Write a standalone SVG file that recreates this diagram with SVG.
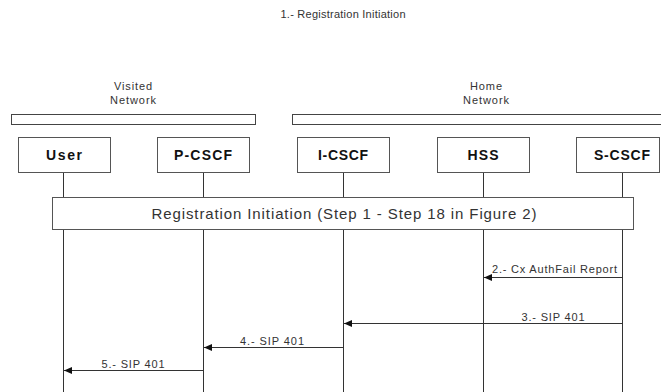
<svg xmlns="http://www.w3.org/2000/svg" width="661" height="392" viewBox="0 0 661 392">
<style>
  text { font-family: "Liberation Sans", Arial, sans-serif; fill: #333; }
  .small { font-size: 11px; }
  .node rect { fill: #fff; stroke: #555; stroke-width: 1; }
  .node text { font-size: 14px; font-weight: bold; fill: #111; text-anchor: middle; }
  .life { stroke: #333; stroke-width: 1; }
  .msg { stroke: #333; stroke-width: 1; marker-end: url(#ah); }
  .bar { fill: #fff; stroke: #444; stroke-width: 1; }
</style>
<defs>
  <marker id="ah" viewBox="0 0 8 8" refX="8" refY="4" markerWidth="8" markerHeight="8" markerUnits="userSpaceOnUse" orient="auto">
    <path d="M0,0.5 L8,4 L0,7.5 Z" fill="#111"/>
  </marker>
</defs>
<rect x="0" y="0" width="661" height="392" fill="#fff"/>
<text class="small" x="343" y="18" text-anchor="middle" textLength="125">1.- Registration Initiation</text>

<g id="visited-network">
  <text class="small" x="133" y="90" text-anchor="middle" textLength="38">Visited</text>
  <text class="small" x="133" y="104" text-anchor="middle" textLength="46">Network</text>
  <rect class="bar" x="11.5" y="114.5" width="244" height="10"/>
</g>
<g id="home-network">
  <text class="small" x="486" y="90" text-anchor="middle" textLength="32">Home</text>
  <text class="small" x="486" y="104" text-anchor="middle" textLength="46">Network</text>
  <rect class="bar" x="292.5" y="114.5" width="380" height="10"/>
</g>

<g id="lifelines">
  <line class="life" x1="63.5" y1="172" x2="63.5" y2="392"/>
  <line class="life" x1="203.5" y1="172" x2="203.5" y2="392"/>
  <line class="life" x1="343.5" y1="172" x2="343.5" y2="392"/>
  <line class="life" x1="483.5" y1="172" x2="483.5" y2="392" stroke="#777"/>
  <line class="life" x1="622.5" y1="172" x2="622.5" y2="392"/>
</g>

<g id="user" class="node"><rect x="18.5" y="137.5" width="92" height="35"/><text x="64" y="160" textLength="36">User</text></g>
<g id="pcscf" class="node"><rect x="157.5" y="137.5" width="92" height="35"/><text x="203" y="160" textLength="58">P-CSCF</text></g>
<g id="icscf" class="node"><rect x="297.5" y="137.5" width="92" height="35"/><text x="343" y="160" textLength="50">I-CSCF</text></g>
<g id="hss" class="node"><rect x="437.5" y="137.5" width="92" height="35"/><text x="483" y="160" textLength="31">HSS</text></g>
<g id="scscf" class="node"><rect x="576.5" y="137.5" width="83" height="35"/><text x="622" y="160" textLength="56">S-CSCF</text></g>

<g id="registration-box">
  <rect x="52.5" y="197.5" width="581" height="32" fill="#fff" stroke="#555"/>
  <text x="344" y="219" text-anchor="middle" font-size="15" fill="#111" textLength="385">Registration Initiation (Step 1 - Step 18 in Figure 2)</text>
</g>

<g id="connectors">
  <line class="msg" x1="622.5" y1="277.5" x2="484" y2="277.5"/>
  <text class="small" x="617" y="273" text-anchor="end" textLength="125">2.- Cx AuthFail Report</text>
  <line class="msg" x1="622.5" y1="323.5" x2="344" y2="323.5"/>
  <text class="small" x="553" y="321" text-anchor="middle" textLength="63">3.- SIP 401</text>
  <line class="msg" x1="343.5" y1="347.5" x2="204" y2="347.5"/>
  <text class="small" x="272" y="345" text-anchor="middle" textLength="64">4.- SIP 401</text>
  <line class="msg" x1="203.5" y1="370.5" x2="64" y2="370.5"/>
  <text class="small" x="133" y="368" text-anchor="middle" textLength="63">5.- SIP 401</text>
</g>
</svg>
